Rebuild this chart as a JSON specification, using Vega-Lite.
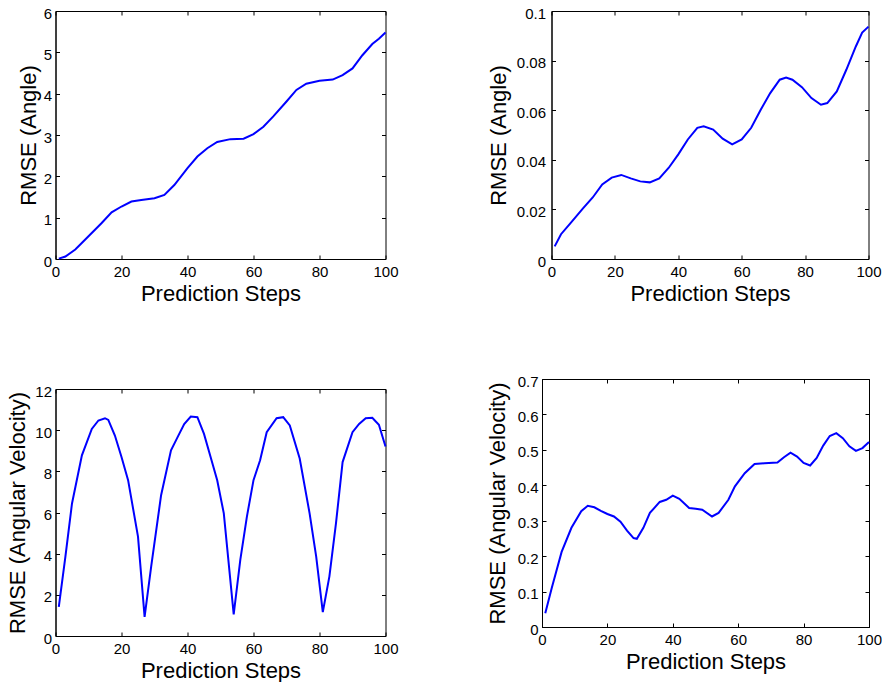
{
  "$schema": "https://vega.github.io/schema/vega-lite/v6.json",
  "background": "white",
  "padding": {"left": 5.5, "top": 5, "right": 0, "bottom": 0},
  "config": {
    "view": {"stroke": "black", "strokeWidth": 1},
    "axis": {
      "grid": false,
      "domain": true,
      "domainColor": "black",
      "domainWidth": 1,
      "ticks": true,
      "tickSize": -4,
      "tickColor": "black",
      "tickWidth": 1,
      "labelFont": "Liberation Sans",
      "labelFontSize": 15,
      "labelColor": "black",
      "labelFlush": false,
      "labelOverlap": false,
      "titleFont": "Liberation Sans",
      "titleFontSize": 22,
      "titleFontWeight": "normal",
      "titleColor": "black",
      "format": "~r"
    },
    "axisX": {"labelPadding": 9, "titlePadding": 4},
    "axisY": {"labelPadding": 8, "labelOffset": 2},
    "line": {"color": "#0000ff", "strokeWidth": 2}
  },
  "datasets": {
    "p1": [
      {"step": 1, "rmse": 0.01}, {"step": 3, "rmse": 0.06}, {"step": 6, "rmse": 0.23}, {"step": 10, "rmse": 0.55},
      {"step": 14, "rmse": 0.87}, {"step": 17, "rmse": 1.13}, {"step": 20, "rmse": 1.27}, {"step": 23, "rmse": 1.39},
      {"step": 26, "rmse": 1.43}, {"step": 30, "rmse": 1.47}, {"step": 33, "rmse": 1.55}, {"step": 36, "rmse": 1.79},
      {"step": 40, "rmse": 2.2}, {"step": 43, "rmse": 2.48}, {"step": 46, "rmse": 2.68}, {"step": 49, "rmse": 2.83},
      {"step": 53, "rmse": 2.9}, {"step": 57, "rmse": 2.91}, {"step": 60, "rmse": 3.02}, {"step": 63, "rmse": 3.2},
      {"step": 66, "rmse": 3.45}, {"step": 70, "rmse": 3.81}, {"step": 73, "rmse": 4.09}, {"step": 76, "rmse": 4.24},
      {"step": 80, "rmse": 4.31}, {"step": 84, "rmse": 4.34}, {"step": 87, "rmse": 4.45}, {"step": 90, "rmse": 4.61},
      {"step": 93, "rmse": 4.93}, {"step": 96, "rmse": 5.2}, {"step": 98, "rmse": 5.33}, {"step": 100, "rmse": 5.48}
    ],
    "p2": [
      {"step": 1, "rmse": 0.0051}, {"step": 3, "rmse": 0.010}, {"step": 6, "rmse": 0.0145}, {"step": 10, "rmse": 0.0205},
      {"step": 13, "rmse": 0.0248}, {"step": 16, "rmse": 0.0301}, {"step": 19, "rmse": 0.0328}, {"step": 22, "rmse": 0.0339},
      {"step": 25, "rmse": 0.0325}, {"step": 28, "rmse": 0.0313}, {"step": 31, "rmse": 0.0309}, {"step": 34, "rmse": 0.0325},
      {"step": 37, "rmse": 0.0368}, {"step": 40, "rmse": 0.0422}, {"step": 43, "rmse": 0.0482}, {"step": 46, "rmse": 0.0529},
      {"step": 48, "rmse": 0.0535}, {"step": 51, "rmse": 0.0522}, {"step": 54, "rmse": 0.0485}, {"step": 57, "rmse": 0.0462},
      {"step": 60, "rmse": 0.0482}, {"step": 63, "rmse": 0.0529}, {"step": 66, "rmse": 0.0602}, {"step": 69, "rmse": 0.0669},
      {"step": 72, "rmse": 0.0723}, {"step": 74, "rmse": 0.0732}, {"step": 76, "rmse": 0.0723}, {"step": 79, "rmse": 0.0693},
      {"step": 82, "rmse": 0.0649}, {"step": 85, "rmse": 0.0622}, {"step": 87, "rmse": 0.0629}, {"step": 90, "rmse": 0.0676},
      {"step": 93, "rmse": 0.0763}, {"step": 96, "rmse": 0.0857}, {"step": 98, "rmse": 0.0913}, {"step": 100, "rmse": 0.0937}
    ],
    "p3": [
      {"step": 1, "rmse": 1.42}, {"step": 3, "rmse": 3.86}, {"step": 5, "rmse": 6.44}, {"step": 8, "rmse": 8.78},
      {"step": 11, "rmse": 10.06}, {"step": 13, "rmse": 10.47}, {"step": 15, "rmse": 10.58}, {"step": 16, "rmse": 10.5},
      {"step": 18, "rmse": 9.74}, {"step": 20, "rmse": 8.7}, {"step": 22, "rmse": 7.57}, {"step": 25, "rmse": 4.83},
      {"step": 27, "rmse": 0.93}, {"step": 29, "rmse": 3.38}, {"step": 32, "rmse": 6.84}, {"step": 35, "rmse": 9.02},
      {"step": 37, "rmse": 9.66}, {"step": 39, "rmse": 10.3}, {"step": 41, "rmse": 10.66}, {"step": 43, "rmse": 10.63},
      {"step": 45, "rmse": 9.82}, {"step": 47, "rmse": 8.7}, {"step": 49, "rmse": 7.57}, {"step": 51, "rmse": 5.96},
      {"step": 54, "rmse": 1.05}, {"step": 56, "rmse": 3.7}, {"step": 58, "rmse": 5.8}, {"step": 60, "rmse": 7.57},
      {"step": 62, "rmse": 8.54}, {"step": 64, "rmse": 9.9}, {"step": 67, "rmse": 10.58}, {"step": 69, "rmse": 10.63},
      {"step": 71, "rmse": 10.23}, {"step": 74, "rmse": 8.62}, {"step": 77, "rmse": 5.96}, {"step": 79, "rmse": 3.86},
      {"step": 81, "rmse": 1.16}, {"step": 83, "rmse": 2.9}, {"step": 85, "rmse": 5.48}, {"step": 87, "rmse": 8.45},
      {"step": 90, "rmse": 9.9}, {"step": 92, "rmse": 10.3}, {"step": 94, "rmse": 10.58}, {"step": 96, "rmse": 10.6},
      {"step": 98, "rmse": 10.26}, {"step": 100, "rmse": 9.21}
    ],
    "p4": [
      {"step": 1, "rmse": 0.039}, {"step": 3, "rmse": 0.111}, {"step": 6, "rmse": 0.212}, {"step": 9, "rmse": 0.28},
      {"step": 12, "rmse": 0.327}, {"step": 14, "rmse": 0.342}, {"step": 16, "rmse": 0.338}, {"step": 18, "rmse": 0.328},
      {"step": 20, "rmse": 0.319}, {"step": 22, "rmse": 0.312}, {"step": 24, "rmse": 0.297}, {"step": 26, "rmse": 0.272},
      {"step": 28, "rmse": 0.251}, {"step": 29, "rmse": 0.249}, {"step": 31, "rmse": 0.28}, {"step": 33, "rmse": 0.322},
      {"step": 36, "rmse": 0.353}, {"step": 38, "rmse": 0.359}, {"step": 40, "rmse": 0.371}, {"step": 42, "rmse": 0.362},
      {"step": 45, "rmse": 0.336}, {"step": 47, "rmse": 0.334}, {"step": 49, "rmse": 0.331}, {"step": 52, "rmse": 0.312},
      {"step": 54, "rmse": 0.322}, {"step": 57, "rmse": 0.359}, {"step": 59, "rmse": 0.397}, {"step": 62, "rmse": 0.434},
      {"step": 65, "rmse": 0.46}, {"step": 68, "rmse": 0.462}, {"step": 72, "rmse": 0.464}, {"step": 74, "rmse": 0.479},
      {"step": 76, "rmse": 0.492}, {"step": 78, "rmse": 0.481}, {"step": 80, "rmse": 0.463}, {"step": 82, "rmse": 0.456},
      {"step": 84, "rmse": 0.477}, {"step": 86, "rmse": 0.512}, {"step": 88, "rmse": 0.539}, {"step": 90, "rmse": 0.547},
      {"step": 92, "rmse": 0.533}, {"step": 94, "rmse": 0.51}, {"step": 96, "rmse": 0.497}, {"step": 98, "rmse": 0.505},
      {"step": 100, "rmse": 0.522}
    ]
  },
  "spacing": 68,
  "vconcat": [
    {
      "spacing": 87,
      "hconcat": [
        {
          "width": 330, "height": 248,
          "data": {"name": "p1"},
          "resolve": {"axis": {"x": "independent", "y": "independent"}},
          "layer": [
            {
              "mark": {"type": "line"},
              "encoding": {
                "x": {"field": "step", "type": "quantitative", "scale": {"domain": [0, 100], "nice": false},
                      "axis": {"orient": "bottom", "values": [0, 20, 40, 60, 80, 100], "title": "Prediction Steps"}},
                "y": {"field": "rmse", "type": "quantitative", "scale": {"domain": [0, 6], "nice": false},
                      "axis": {"orient": "left", "values": [0, 1, 2, 3, 4, 5, 6], "title": "RMSE (Angle)", "titlePadding": 3}}
              }
            },
            {
              "mark": {"type": "line", "opacity": 0},
              "encoding": {
                "x": {"field": "step", "type": "quantitative",
                      "axis": {"orient": "top", "values": [0, 20, 40, 60, 80, 100], "labels": false, "title": null, "domain": false}},
                "y": {"field": "rmse", "type": "quantitative",
                      "axis": {"orient": "right", "values": [0, 1, 2, 3, 4, 5, 6], "labels": false, "title": null, "domain": false}}
              }
            }
          ]
        },
        {
          "width": 317, "height": 248,
          "data": {"name": "p2"},
          "resolve": {"axis": {"x": "independent", "y": "independent"}},
          "layer": [
            {
              "mark": {"type": "line"},
              "encoding": {
                "x": {"field": "step", "type": "quantitative", "scale": {"domain": [0, 100], "nice": false},
                      "axis": {"orient": "bottom", "values": [0, 20, 40, 60, 80, 100], "title": "Prediction Steps"}},
                "y": {"field": "rmse", "type": "quantitative", "scale": {"domain": [0, 0.1], "nice": false},
                      "axis": {"orient": "left", "values": [0, 0.02, 0.04, 0.06, 0.08, 0.1], "title": "RMSE (Angle)", "labelPadding": 10, "titlePadding": 6}}
              }
            },
            {
              "mark": {"type": "line", "opacity": 0},
              "encoding": {
                "x": {"field": "step", "type": "quantitative",
                      "axis": {"orient": "top", "values": [0, 20, 40, 60, 80, 100], "labels": false, "title": null, "domain": false}},
                "y": {"field": "rmse", "type": "quantitative",
                      "axis": {"orient": "right", "values": [0, 0.02, 0.04, 0.06, 0.08, 0.1], "labels": false, "title": null, "domain": false}}
              }
            }
          ]
        }
      ]
    },
    {
      "spacing": 86.5,
      "hconcat": [
        {
          "spacing": 3,
          "vconcat": [
            {
              "width": 1, "height": 1,
              "view": {"stroke": null},
              "data": {"values": []},
              "mark": {"type": "rule", "opacity": 0},
              "encoding": {}
            },
            {
              "width": 330, "height": 247,
              "data": {"name": "p3"},
              "resolve": {"axis": {"x": "independent", "y": "independent"}},
              "layer": [
                {
                  "mark": {"type": "line"},
                  "encoding": {
                    "x": {"field": "step", "type": "quantitative", "scale": {"domain": [0, 100], "nice": false},
                          "axis": {"orient": "bottom", "values": [0, 20, 40, 60, 80, 100], "title": "Prediction Steps"}},
                    "y": {"field": "rmse", "type": "quantitative", "scale": {"domain": [0, 12], "nice": false},
                          "axis": {"orient": "left", "values": [0, 2, 4, 6, 8, 10, 12], "title": "RMSE (Angular Velocity)", "titlePadding": 5}}
                  }
                },
                {
                  "mark": {"type": "line", "opacity": 0},
                  "encoding": {
                    "x": {"field": "step", "type": "quantitative",
                          "axis": {"orient": "top", "values": [0, 20, 40, 60, 80, 100], "labels": false, "title": null, "domain": false}},
                    "y": {"field": "rmse", "type": "quantitative",
                          "axis": {"orient": "right", "values": [0, 2, 4, 6, 8, 10, 12], "labels": false, "title": null, "domain": false}}
                  }
                }
              ]
            }
          ]
        },
        {
          "width": 327, "height": 248,
          "data": {"name": "p4"},
          "resolve": {"axis": {"x": "independent", "y": "independent"}},
          "layer": [
            {
              "mark": {"type": "line"},
              "encoding": {
                "x": {"field": "step", "type": "quantitative", "scale": {"domain": [0, 100], "nice": false},
                      "axis": {"orient": "bottom", "values": [0, 20, 40, 60, 80, 100], "title": "Prediction Steps"}},
                "y": {"field": "rmse", "type": "quantitative", "scale": {"domain": [0, 0.7], "nice": false},
                      "axis": {"orient": "left", "values": [0, 0.1, 0.2, 0.3, 0.4, 0.5, 0.6, 0.7], "title": "RMSE (Angular Velocity)", "titlePadding": 7.5}}
              }
            },
            {
              "mark": {"type": "line", "opacity": 0},
              "encoding": {
                "x": {"field": "step", "type": "quantitative",
                      "axis": {"orient": "top", "values": [0, 20, 40, 60, 80, 100], "labels": false, "title": null, "domain": false}},
                "y": {"field": "rmse", "type": "quantitative",
                      "axis": {"orient": "right", "values": [0, 0.1, 0.2, 0.3, 0.4, 0.5, 0.6, 0.7], "labels": false, "title": null, "domain": false}}
              }
            }
          ]
        }
      ]
    }
  ]
}
